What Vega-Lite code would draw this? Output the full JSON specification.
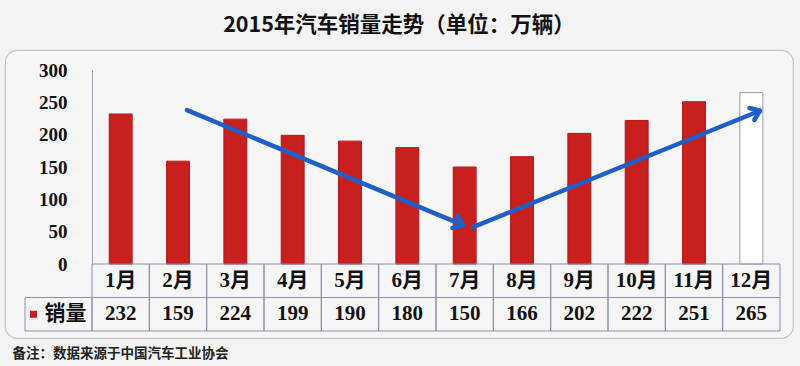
{
  "$schema": "https://vega.github.io/schema/vega-lite/v6.json",
  "autosize": {"type": "none"},
  "padding": {"left": 5, "top": 50, "right": 7, "bottom": 28},
  "width": 788,
  "height": 288,
  "background": "#f3f3f3",
  "config": {
    "view": {"stroke": "#c4c4cc", "strokeWidth": 1.2, "cornerRadius": 12, "fill": "#f6f6f6"}
  },
  "title": {
    "text": "2015年汽车销量走势（单位：万辆）",
    "font": "Noto Sans CJK SC",
    "fontWeight": "bold",
    "fontSize": 21.5,
    "color": "#111111",
    "offset": 14
  },
  "datasets": {
    "sales": [
      {"month": "1月", "sales": 232},
      {"month": "2月", "sales": 159},
      {"month": "3月", "sales": 224},
      {"month": "4月", "sales": 199},
      {"month": "5月", "sales": 190},
      {"month": "6月", "sales": 180},
      {"month": "7月", "sales": 150},
      {"month": "8月", "sales": 166},
      {"month": "9月", "sales": 202},
      {"month": "10月", "sales": 222},
      {"month": "11月", "sales": 251},
      {"month": "12月", "sales": 265}
    ],
    "series": [{"series": "销量", "row": "sales"}],
    "trend": [
      {"seg": 1, "pos": 1.657, "sales": 238, "end": false},
      {"seg": 1, "pos": 6.47, "sales": 60, "end": true},
      {"seg": 2, "pos": 6.645, "sales": 57, "end": false},
      {"seg": 2, "pos": 11.65, "sales": 237, "end": true}
    ]
  },
  "resolve": {"scale": {"x": "independent", "y": "independent"}, "axis": {"x": "independent", "y": "independent"}},
  "layer": [
    {
      "data": {"name": "sales"},
      "mark": {"type": "bar", "strokeWidth": 1},
      "encoding": {
        "x": {
          "field": "month", "type": "ordinal", "sort": null,
          "scale": {"domain": ["1月","2月","3月","4月","5月","6月","7月","8月","9月","10月","11月","12月"], "range": [87, 775], "paddingInner": 0.6, "paddingOuter": 0.3},
          "axis": {
            "labels": false, "ticks": false, "domain": false, "grid": false,
            "title": "备注：数据来源于中国汽车工业协会",
            "titleFont": "Noto Sans CJK SC", "titleFontWeight": "bold", "titleFontSize": 13.5,
            "titleColor": "#222222", "titleAnchor": "start", "titleAlign": "left",
            "titleBaseline": "middle", "titleX": 7, "titleY": 15
          }
        },
        "y": {
          "field": "sales", "type": "quantitative",
          "scale": {"domain": [0, 300], "range": [214, 20], "nice": false},
          "axis": {
            "values": [0, 50, 100, 150, 200, 250, 300],
            "ticks": false, "grid": false, "title": null,
            "domainColor": "#9a9ab8", "domainWidth": 1,
            "labelFont": "Liberation Serif", "labelFontWeight": "bold", "labelFontSize": 19,
            "labelColor": "#111111", "labelPadding": 25, "offset": -87
          }
        },
        "fill": {"condition": {"test": "datum.month === '12月'", "value": "#ffffff"}, "value": "#c8201e"},
        "stroke": {"condition": {"test": "datum.month === '12月'", "value": "#9a9ab8"}, "value": "#b51a1a"}
      }
    },
    {
      "data": {"name": "sales"},
      "transform": [{"fold": ["month", "sales"], "as": ["row", "cell"]}],
      "encoding": {
        "x": {
          "field": "month", "type": "ordinal", "sort": null,
          "scale": {"domain": ["1月","2月","3月","4月","5月","6月","7月","8月","9月","10月","11月","12月"], "range": [87, 775], "paddingInner": 0, "paddingOuter": 0},
          "axis": null
        },
        "y": {
          "field": "row", "type": "nominal",
          "scale": {"domain": ["month", "sales"], "range": [214, 281], "paddingInner": 0, "paddingOuter": 0},
          "axis": null
        }
      },
      "layer": [
        {"mark": {"type": "rect", "fill": "transparent", "stroke": "#8e8eae", "strokeWidth": 1}},
        {
          "mark": {"type": "text", "font": "Liberation Serif, Noto Sans CJK SC", "fontWeight": "bold", "fontSize": 21, "color": "#111111", "baseline": "middle", "align": "center"},
          "encoding": {"text": {"field": "cell", "type": "nominal"}}
        }
      ]
    },
    {
      "data": {"name": "series"},
      "encoding": {
        "x": {
          "field": "series", "type": "nominal",
          "scale": {"domain": ["销量"], "range": [20, 87], "paddingInner": 0, "paddingOuter": 0},
          "axis": null
        },
        "y": {
          "field": "row", "type": "nominal",
          "scale": {"domain": ["month", "sales"], "range": [214, 281], "paddingInner": 0, "paddingOuter": 0},
          "axis": null
        }
      },
      "layer": [
        {"mark": {"type": "rect", "fill": "transparent", "stroke": "#8e8eae", "strokeWidth": 1}},
        {
          "mark": {"type": "text", "font": "Noto Sans CJK SC", "fontWeight": "bold", "fontSize": 21, "color": "#111111", "baseline": "middle", "align": "center", "dx": 7},
          "encoding": {"text": {"field": "series", "type": "nominal"}}
        },
        {
          "mark": {"type": "point", "shape": "square", "filled": true, "size": 49, "color": "#c8201e", "opacity": 1, "xOffset": -25}
        }
      ]
    },
    {
      "data": {"name": "trend"},
      "encoding": {
        "x": {"field": "pos", "type": "quantitative", "scale": {"domain": [0, 12], "range": [87, 775], "nice": false, "zero": false}, "axis": null},
        "y": {"field": "sales", "type": "quantitative", "scale": {"domain": [0, 300], "range": [214, 20], "nice": false}, "axis": null}
      },
      "layer": [
        {
          "mark": {"type": "line", "color": "#1f5fc8", "strokeWidth": 4.5, "strokeCap": "round"},
          "encoding": {"detail": {"field": "seg", "type": "nominal"}}
        },
        {
          "transform": [{"filter": "datum.end"}],
          "mark": {"type": "point", "shape": "M-1,-0.75L0,0L-1,0.75", "filled": false, "size": 300, "strokeWidth": 4.5, "color": "#1f5fc8", "opacity": 1, "strokeCap": "round", "strokeJoin": "round"},
          "encoding": {
            "angle": {"condition": {"test": "datum.seg === 1", "value": 22.6}, "value": 338}
          }
        }
      ]
    }
  ]
}
